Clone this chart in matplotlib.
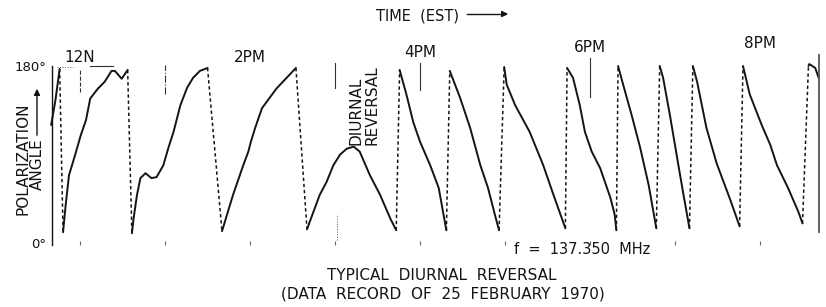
import numpy as np
import matplotlib.pyplot as plt
from matplotlib.transforms import blended_transform_factory

# ------------------------------------------------------------
# polarization angle record, 25 Feb 1970 (hours EST, degrees)
# ------------------------------------------------------------
A_HR  = [11.66, 11.71, 11.76]
A_DEG = [120, 145, 177]

B_HR  = [11.80, 11.83, 11.87, 11.94, 12.01, 12.07, 12.12, 12.21, 12.29, 12.37, 12.41, 12.49, 12.56]
B_DEG = [11, 38, 69, 89, 110, 125, 147, 157, 164, 175, 175, 167, 176]

C_HR  = [12.61, 12.63, 12.67, 12.71, 12.77, 12.84, 12.90, 12.98, 13.04, 13.10, 13.18,
         13.26, 13.33, 13.41, 13.50]
C_DEG = [10, 25, 49, 66, 71, 66, 67, 79, 97, 113, 140, 158, 168, 175, 178]

D_HR  = [13.67, 13.80, 13.92, 13.98, 14.01, 14.06, 14.14, 14.31, 14.54]
D_DEG = [12, 49, 79, 93, 103, 117, 137, 157, 178]

E_HR  = [14.67, 14.82, 14.90, 14.98, 15.06, 15.14, 15.22, 15.29, 15.41, 15.53, 15.65, 15.72]
E_DEG = [14, 49, 62, 79, 90, 96, 98, 93, 69, 49, 25, 13]

F_HR  = [15.76, 15.84, 15.92, 16.00, 16.12, 16.22, 16.27, 16.31]
F_DEG = [176, 151, 123, 103, 79, 56, 32, 13]

G_HR  = [16.35, 16.39, 16.47, 16.59, 16.71, 16.80, 16.88, 16.93]
G_DEG = [175, 166, 148, 117, 79, 56, 29, 13]

H_HR  = [16.99, 17.02, 17.12, 17.29, 17.45, 17.57, 17.71]
H_DEG = [179, 161, 140, 113, 79, 49, 15]

I_HR  = [17.73, 17.80, 17.88, 17.94, 18.02, 18.12, 18.24, 18.29, 18.31]
I_DEG = [178, 168, 140, 113, 93, 76, 46, 29, 13]

J_HR  = [18.33, 18.39, 18.49, 18.59, 18.69, 18.78]
J_DEG = [180, 161, 130, 97, 59, 15]

K_HR  = [18.82, 18.86, 18.94, 19.04, 19.10, 19.17]
K_DEG = [180, 168, 130, 79, 49, 15]

L_HR  = [19.21, 19.26, 19.37, 19.49, 19.65, 19.76]
L_DEG = [180, 164, 117, 81, 44, 17]

M_HR  = [19.80, 19.88, 20.02, 20.12, 20.20, 20.33, 20.45, 20.50]
M_DEG = [180, 151, 120, 100, 79, 56, 32, 20]

N_HR  = [20.57, 20.58, 20.65, 20.69]
N_DEG = [180, 182, 178, 168]

TRACES = [(A_HR, A_DEG), (B_HR, B_DEG), (C_HR, C_DEG), (D_HR, D_DEG), (E_HR, E_DEG),
          (F_HR, F_DEG), (G_HR, G_DEG), (H_HR, H_DEG), (I_HR, I_DEG), (J_HR, J_DEG),
          (K_HR, K_DEG), (L_HR, L_DEG), (M_HR, M_DEG), (N_HR, N_DEG)]

# hour marks on the chart record
HOUR_MARKS    = [12, 13, 14, 15, 16, 17, 18, 19, 20]
TOP_MARK_HR   = [12, 13, 15, 16, 18]
TOP_MARK_LO   = [154, 152, 158, 156, 148]
TOP_MARK_HI   = [176, 181, 183, 183, 188]
TIME_LABELS   = ["12N", "2PM", "4PM", "6PM", "8PM"]
TIME_LABEL_HR = [12, 14, 16, 18, 20]

W, H = 826, 307


def fx(x):
    return x / W


def fy(y):
    return 1 - y / H


fig = plt.figure(figsize=(W / 100, H / 100), dpi=100)
ax = fig.add_axes([fx(52), fy(245), (819.5 - 52) / W, (245 - 66) / H])
ax.set_xlim(11.67, 20.70)
ax.set_ylim(-2, 180)

ink = "#141414"

# solid record + dashed wrap-arounds between successive traces
for k, (hr, deg) in enumerate(TRACES):
    ax.plot(hr, deg, color=ink, lw=1.4, solid_capstyle="round", clip_on=False)
    if k + 1 < len(TRACES):
        nhr, ndeg = TRACES[k + 1]
        ax.plot([hr[-1], nhr[0]], [deg[-1], ndeg[0]], color=ink, lw=1.1,
                dashes=(2.2, 1.8), clip_on=False)

# hour marks near the top of the record
styles = ["--", "-.", "-", "-", "-"]
for h, lo, hi, ls in zip(TOP_MARK_HR, TOP_MARK_LO, TOP_MARK_HI, styles):
    ax.plot([h, h], [lo, hi], color="#333333", lw=0.8, ls=ls, clip_on=False)
ax.plot([11.73, 11.92], [179, 179], color="#555555", lw=0.7, ls=":", clip_on=False)
ax.plot([12.12, 12.39], [179.5, 179.5], color="#333333", lw=0.8, clip_on=False)
ax.plot([15.02, 15.02], [3, 30], color="#555555", lw=0.7, ls=":", clip_on=False)

# right-hand edge of the strip chart
ax.axvline(20.70, ymin=0.07, ymax=1.06, color="#555555", lw=1.3, clip_on=False)

for s in ("top", "right", "bottom"):
    ax.spines[s].set_visible(False)
ax.spines["left"].set_linewidth(1.0)
ax.spines["left"].set_color(ink)

ax.set_yticks([0, 180], ["0°", "180°"])
ax.tick_params(axis="y", length=0, pad=4, labelsize=9.5, labelcolor=ink)
ax.set_xticks(HOUR_MARKS, [""] * len(HOUR_MARKS))
ax.tick_params(axis="x", direction="in", length=3, width=0.8, colors="#666666")

# time labels across the top
trans = blended_transform_factory(ax.transData, ax.transAxes)
label_y = [1.050, 1.050, 1.078, 1.103, 1.123]
for lab, h, yy in zip(TIME_LABELS, TIME_LABEL_HR, label_y):
    ax.text(h, yy, lab, transform=trans, ha="center", va="center",
            fontsize=11, color=ink)

fig.text(fx(418), fy(16), "TIME  (EST)", ha="center", va="center", fontsize=10.5, color=ink)
fig.add_artist(plt.Line2D([fx(467), fx(505)], [fy(14), fy(14)], color=ink, lw=1.0))
ax.annotate("", xy=(fx(511), fy(14)), xytext=(fx(500), fy(14)),
            xycoords="figure fraction", textcoords="figure fraction",
            arrowprops=dict(arrowstyle="-|>", color=ink, lw=1.0, mutation_scale=9))

# y-axis label
fig.text(fx(23), fy(215), "POLARIZATION", rotation=90, rotation_mode="anchor",
         ha="left", va="center", fontsize=11, color=ink)
fig.text(fx(37), fy(190), "ANGLE", rotation=90, rotation_mode="anchor",
         ha="left", va="center", fontsize=11, color=ink)
ax.annotate("", xy=(fx(37), fy(86)), xytext=(fx(37), fy(138)),
            xycoords="figure fraction", textcoords="figure fraction",
            arrowprops=dict(arrowstyle="-|>", color=ink, lw=1.0, mutation_scale=9))

# annotation of the reversal
fig.text(fx(356), fy(145), "DIURNAL", rotation=90, rotation_mode="anchor",
         ha="left", va="center", fontsize=11, color=ink)
fig.text(fx(372), fy(145), "REVERSAL", rotation=90, rotation_mode="anchor",
         ha="left", va="center", fontsize=11, color=ink)

fig.text(fx(582), fy(249), "f  =  137.350  MHz", ha="center", va="center",
         fontsize=10.5, color=ink)
fig.text(fx(442), fy(275), "TYPICAL  DIURNAL  REVERSAL", ha="center", va="center",
         fontsize=11, color=ink)
fig.text(fx(443), fy(294), "(DATA  RECORD  OF  25  FEBRUARY  1970)", ha="center",
         va="center", fontsize=11, color=ink)

fig.savefig("out.png", dpi=100, facecolor="white")
